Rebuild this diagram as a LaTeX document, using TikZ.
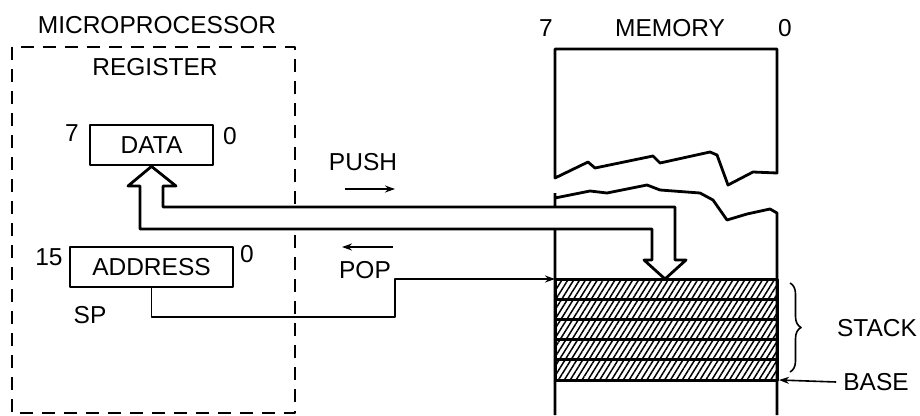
\documentclass[tikz,border=0pt]{standalone}
\usepackage{fontspec}
\setmainfont{Liberation Sans}
\usetikzlibrary{arrows.meta, patterns.meta, decorations.pathreplacing, positioning}

\begin{document}
\begin{tikzpicture}[x=1pt, y=-1pt, line join=round,
    lbl/.style={inner sep=0pt, font=\fontsize{24.5}{28}\selectfont},
    regbox/.style={lbl, draw, line width=2.8pt, minimum height=40pt},
    band/.style={line width=3pt,
      pattern={Lines[angle=58, distance=5pt, line width=1.5pt]}},
    wire/.style={line width=1.6pt},
    tip/.style={-{Stealth[length=10pt, width=7pt]}}]
  \useasboundingbox (0,0) rectangle (920,415);

  % microprocessor side
  \node[lbl] (mpu) at (157,25) {MICROPROCESSOR};
  \draw[line width=2pt, dash pattern=on 13pt off 9pt] (12,47) rectangle (295,413);
  \node[lbl] (reg) at (155,67) {REGISTER};

  \node[regbox, minimum width=123pt] (data) at (151.5,145) {DATA};
  \node[lbl] (d7) at (72,133) {7};
  \node[lbl] (d0) at (230,136) {0};

  \node[regbox, minimum width=163pt] (addr) at (151.5,267) {ADDRESS};
  \node[lbl] (a15) at (49,257) {15};
  \node[lbl] (a0) at (247,254) {0};
  \node[lbl] (sp) at (90,315) {SP};

  % memory
  \node[lbl] (m7) at (546,28) {7};
  \node[lbl] (mem) at (670,28) {MEMORY};
  \node[lbl] (m0) at (785,28) {0};

  % upper part, torn off at the bottom
  \draw[line width=2.8pt] (555,49) -- (777,49) -- (777,173) -- (753,172)
    -- (728,185) -- (717,155) -- (710,152) -- (660,163) -- (653,156)
    -- (595,168) -- (588,162) -- (555,178) -- cycle;
  % lower part, torn off at the top
  \draw[line width=2.8pt] (555,415) -- (555,193) (555,198) -- (590,191)
    -- (607,193) -- (647,185) -- (660,190) -- (700,193) -- (713,200)
    -- (727,220) -- (747,214) -- (770,209) -- (777,213) -- (777,415);

  % stack entries
  \foreach \i in {0,...,4}
    \draw[band] (555,{279+20.2*\i}) rectangle ++(222,20.2);
  \coordinate (stktl) at (555,279);
  \coordinate (stktop) at (665,279);
  \coordinate (stkbase) at (779,380);

  \draw[decorate, decoration={brace, amplitude=11pt}, line width=1.6pt]
    (790,283) -- (790,372);
  \node[lbl] (stack) at (877,328) {STACK};
  \node[lbl] (base) at (876,382) {BASE};
  \draw[wire, tip] (base.west) ++(-7,0) -- (stkbase);

  % data path between DATA and stack top
  \draw[line width=2.8pt, fill=white] (data.south) -- (176,186) -- (163,186)
    -- (163,207) -- (675,207) -- (675,260) -- (686,260) -- (stktop)
    -- (644,260) -- (652,260) -- (652,229) -- (140,229) -- (140,186)
    -- (128,186) -- cycle;

  % stack pointer
  \coordinate (kink) at (395,317);
  \draw[wire, tip] (addr.south) |- (kink) |- (stktl);

  % push / pop
  \node[lbl] (push) at (363,162) {PUSH};
  \coordinate (pushA) at (345,189);
  \coordinate (pushB) at (395,189);
  \draw[wire, tip] (pushA) -- (pushB);
  \node[lbl] (pop) at (365,270) {POP};
  \coordinate (popA) at (393,247);
  \coordinate (popB) at (342,247);
  \draw[line width=2.4pt, tip] (popA) -- (popB);
\end{tikzpicture}
\end{document}
